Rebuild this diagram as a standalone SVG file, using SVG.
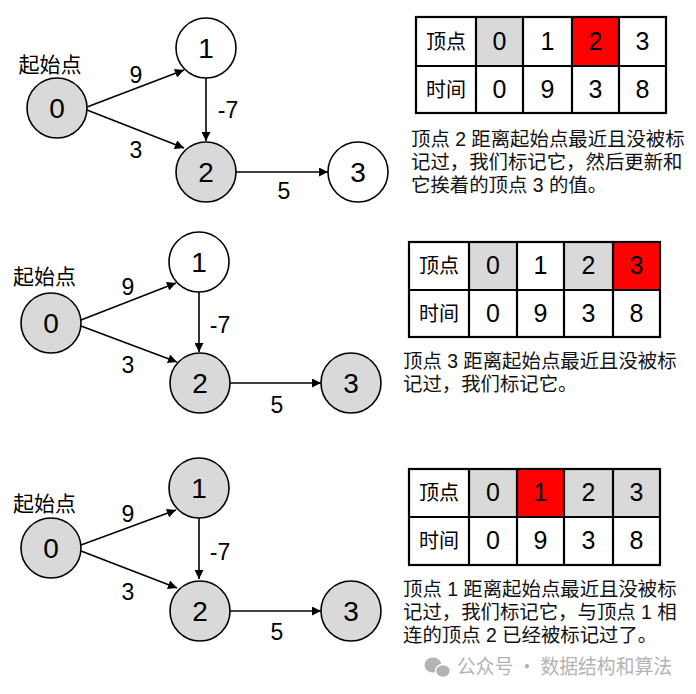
<svg xmlns="http://www.w3.org/2000/svg" width="696" height="694" viewBox="0 0 696 694">
<defs>
<marker id="arr" viewBox="0 0 10 10" refX="10" refY="5" markerWidth="10" markerHeight="9" markerUnits="userSpaceOnUse" orient="auto">
<path d="M0,0 L10,5 L0,10 z" fill="#000"/>
</marker>
<style>
.nd{stroke:#000;stroke-width:1.6}
.w{fill:#fff}
.g{fill:#d9d9d9}
.nl{font-family:"Liberation Sans","Noto Sans",sans-serif;font-size:28px;text-anchor:middle;fill:#000}
.el{font-family:"Liberation Sans","Noto Sans",sans-serif;font-size:23px;text-anchor:middle;fill:#000}
.cn{font-family:"Noto Sans CJK SC",sans-serif;font-size:21px;fill:#000}
.e{stroke:#000;stroke-width:1.6;fill:none;marker-end:url(#arr)}
.tb{stroke:#000;stroke-width:2.2}
.td{font-family:"Liberation Sans","Noto Sans",sans-serif;font-size:25px;text-anchor:middle;fill:#000}
.th{font-family:"Noto Sans CJK SC",sans-serif;font-size:20px;text-anchor:middle;fill:#000}
.desc{font-family:"Liberation Sans","Noto Sans CJK SC",sans-serif;font-size:19.4px;fill:#111}
.wm{font-family:"Noto Sans CJK SC",sans-serif;font-size:20px;fill:#b3b3b3}
</style>
</defs>
<rect width="696" height="694" fill="#fff"/>

<!-- Panel 1 -->
<g id="connectors1">
<line class="e" x1="87" y1="107" x2="184" y2="70"/>
<line class="e" x1="87" y1="110" x2="184" y2="148"/>
<line class="e" x1="206" y1="78" x2="206" y2="141"/>
<line class="e" x1="236" y1="172" x2="328" y2="172"/>
<text class="el" x="136" y="83">9</text>
<text class="el" x="136" y="158">3</text>
<text class="el" x="228" y="118">-7</text>
<text class="el" x="284" y="199">5</text>
</g>
<text class="cn" x="50" y="72" text-anchor="middle">起始点</text>
<g id="p1n0"><circle class="nd g" cx="57" cy="108" r="30"/><text class="nl" x="57" y="118">0</text></g>
<g id="p1n1"><circle class="nd w" cx="206" cy="48" r="30"/><text class="nl" x="206" y="58">1</text></g>
<g id="p1n2"><circle class="nd g" cx="206" cy="172" r="30"/><text class="nl" x="206" y="182">2</text></g>
<g id="p1n3"><circle class="nd w" cx="358" cy="172" r="30"/><text class="nl" x="358" y="182">3</text></g>

<g id="table1">
<rect x="416" y="17" width="250" height="96" fill="#fff"/>
<rect x="476" y="17" width="47" height="49" fill="#d9d9d9"/>
<rect x="572" y="17" width="47" height="49" fill="#ff0000"/>
<g class="tb" fill="none">
<rect x="416" y="17" width="250" height="96"/>
<line x1="416" y1="66" x2="666" y2="66"/>
<line x1="476" y1="17" x2="476" y2="113"/>
<line x1="523" y1="17" x2="523" y2="113"/>
<line x1="572" y1="17" x2="572" y2="113"/>
<line x1="619" y1="17" x2="619" y2="113"/>
</g>
<text class="th" x="446" y="49">顶点</text>
<text class="th" x="446" y="97">时间</text>
<text class="td" x="499.5" y="50">0</text><text class="td" x="547.5" y="50">1</text><text class="td" x="595.5" y="50">2</text><text class="td" x="642.5" y="50">3</text>
<text class="td" x="499.5" y="98">0</text><text class="td" x="547.5" y="98">9</text><text class="td" x="595.5" y="98">3</text><text class="td" x="642.5" y="98">8</text>
</g>
<g id="desc1">
<text class="desc" x="411" y="146">顶点 2 距离起始点最近且没被标</text>
<text class="desc" x="411" y="169">记过，我们标记它，然后更新和</text>
<text class="desc" x="411" y="192">它挨着的顶点 3 的值。</text>
</g>

<!-- Panel 2 -->
<g id="connectors2">
<line class="e" x1="81" y1="320" x2="176" y2="283"/>
<line class="e" x1="81" y1="326" x2="177" y2="362"/>
<line class="e" x1="199" y1="292" x2="199" y2="352"/>
<line class="e" x1="230" y1="383" x2="321" y2="383"/>
<text class="el" x="128" y="295">9</text>
<text class="el" x="128" y="373">3</text>
<text class="el" x="220" y="333">-7</text>
<text class="el" x="277" y="413">5</text>
</g>
<text class="cn" x="44.5" y="284" text-anchor="middle">起始点</text>
<g id="p2n0"><circle class="nd g" cx="51" cy="323" r="30"/><text class="nl" x="51" y="333">0</text></g>
<g id="p2n1"><circle class="nd w" cx="199" cy="262" r="30"/><text class="nl" x="199" y="272">1</text></g>
<g id="p2n2"><circle class="nd g" cx="200" cy="383" r="30"/><text class="nl" x="200" y="393">2</text></g>
<g id="p2n3"><circle class="nd g" cx="351" cy="383" r="30"/><text class="nl" x="351" y="393">3</text></g>

<g id="table2">
<rect x="409" y="242" width="251" height="95" fill="#fff"/>
<rect x="469" y="242" width="48" height="48" fill="#d9d9d9"/>
<rect x="564" y="242" width="49" height="48" fill="#d9d9d9"/>
<rect x="613" y="242" width="47" height="48" fill="#ff0000"/>
<g class="tb" fill="none">
<rect x="409" y="242" width="251" height="95"/>
<line x1="409" y1="290" x2="660" y2="290"/>
<line x1="469" y1="242" x2="469" y2="337"/>
<line x1="517" y1="242" x2="517" y2="337"/>
<line x1="564" y1="242" x2="564" y2="337"/>
<line x1="613" y1="242" x2="613" y2="337"/>
</g>
<text class="th" x="439" y="273">顶点</text>
<text class="th" x="439" y="321">时间</text>
<text class="td" x="493" y="274">0</text><text class="td" x="540.5" y="274">1</text><text class="td" x="588.5" y="274">2</text><text class="td" x="636.5" y="274">3</text>
<text class="td" x="493" y="322">0</text><text class="td" x="540.5" y="322">9</text><text class="td" x="588.5" y="322">3</text><text class="td" x="636.5" y="322">8</text>
</g>
<g id="desc2">
<text class="desc" x="403" y="368">顶点 3 距离起始点最近且没被标</text>
<text class="desc" x="403" y="391">记过，我们标记它。</text>
</g>

<!-- Panel 3 -->
<g id="connectors3">
<line class="e" x1="81" y1="545" x2="176" y2="510"/>
<line class="e" x1="81" y1="551" x2="177" y2="588"/>
<line class="e" x1="199" y1="518" x2="199" y2="579"/>
<line class="e" x1="230" y1="611" x2="321" y2="611"/>
<text class="el" x="128" y="522">9</text>
<text class="el" x="128" y="600">3</text>
<text class="el" x="220" y="560">-7</text>
<text class="el" x="277" y="640">5</text>
</g>
<text class="cn" x="44.5" y="511" text-anchor="middle">起始点</text>
<g id="p3n0"><circle class="nd g" cx="51" cy="548" r="30"/><text class="nl" x="51" y="558">0</text></g>
<g id="p3n1"><circle class="nd g" cx="199" cy="488" r="30"/><text class="nl" x="199" y="498">1</text></g>
<g id="p3n2"><circle class="nd g" cx="200" cy="611" r="30"/><text class="nl" x="200" y="621">2</text></g>
<g id="p3n3"><circle class="nd g" cx="351" cy="611" r="30"/><text class="nl" x="351" y="621">3</text></g>

<g id="table3">
<rect x="409" y="469" width="251" height="96" fill="#fff"/>
<rect x="469" y="469" width="48" height="48" fill="#d9d9d9"/>
<rect x="517" y="469" width="47" height="48" fill="#ff0000"/>
<rect x="564" y="469" width="96" height="48" fill="#d9d9d9"/>
<g class="tb" fill="none">
<rect x="409" y="469" width="251" height="96"/>
<line x1="409" y1="517" x2="660" y2="517"/>
<line x1="469" y1="469" x2="469" y2="565"/>
<line x1="517" y1="469" x2="517" y2="565"/>
<line x1="564" y1="469" x2="564" y2="565"/>
<line x1="613" y1="469" x2="613" y2="565"/>
</g>
<text class="th" x="439" y="500">顶点</text>
<text class="th" x="439" y="548">时间</text>
<text class="td" x="493" y="501">0</text><text class="td" x="540.5" y="501">1</text><text class="td" x="588.5" y="501">2</text><text class="td" x="636.5" y="501">3</text>
<text class="td" x="493" y="549">0</text><text class="td" x="540.5" y="549">9</text><text class="td" x="588.5" y="549">3</text><text class="td" x="636.5" y="549">8</text>
</g>
<g id="desc3">
<text class="desc" x="403" y="596">顶点 1 距离起始点最近且没被标</text>
<text class="desc" x="403" y="619">记过，我们标记它，与顶点 1 相</text>
<text class="desc" x="403" y="642">连的顶点 2 已经被标记过了。</text>
</g>

<g id="watermark">
<ellipse cx="433" cy="665" rx="8.5" ry="7.5" fill="#b3b3b3"/>
<ellipse cx="443" cy="671" rx="7.5" ry="6.5" fill="#b3b3b3" stroke="#fff" stroke-width="1.5"/>
<text class="wm" x="457" y="674" textLength="215" lengthAdjust="spacingAndGlyphs">公众号 · 数据结构和算法</text>
</g>
</svg>
